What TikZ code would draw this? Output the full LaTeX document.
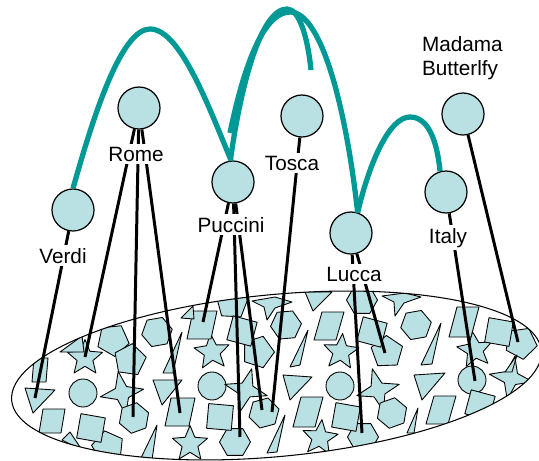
\documentclass[tikz,border=0pt]{standalone}
\usepackage{fontspec}
\setmainfont{Liberation Sans}
\usepackage{tikz}
\usetikzlibrary{calc}
\definecolor{myteal}{RGB}{0,153,150}
\definecolor{mypale}{RGB}{185,224,226}
\tikzset{
  topic/.style={circle, draw=black, fill=mypale, minimum size=0.84cm,
    inner sep=0pt, line width=0.7pt},
  lbl/.style={fill=white, inner sep=1.5pt, font=\fontsize{11.8}{13.6}\selectfont},
  shp/.style={draw=black, fill=mypale, line width=0.5pt, line join=round},
  link/.style={line width=1.7pt, color=black},
  hop/.style={line width=3pt, color=myteal}
}
% regular polygon: sides, x, y, radius, rotation
\newcommand{\rpoly}[5]{\draw[shp, shift={(#2,#3)}, rotate=#5] (0:#4)
  \foreach \k in {1,...,#1}{ -- ({360*\k/#1}:#4)} -- cycle;}
% five point star: x, y, radius, rotation
\newcommand{\pstar}[4]{\draw[shp, shift={(#1,#2)}, rotate=#4] (-90:#3)
  \foreach \k in {0,...,4}{ -- ({-54+72*\k}:{0.45*#3}) -- ({-18+72*\k}:#3)} -- cycle;}
% four point star: x, y, radius, rotation
\newcommand{\qstar}[4]{\draw[shp, shift={(#1,#2)}, rotate=#4] (0:#3)
  \foreach \k in {0,...,3}{ -- ({45+90*\k}:{0.36*#3}) -- ({90+90*\k}:#3)} -- cycle;}
% parallelogram: x, y, half width, half height, skew
\newcommand{\pgram}[5]{\draw[shp, shift={(#1,#2)}] ({-#3+#5},-#4) -- ({#3+#5},-#4)
  -- ({#3-#5},#4) -- ({-#3-#5},#4) -- cycle;}

\begin{document}
\begin{tikzpicture}[x=0.02cm, y=-0.02cm]
  \useasboundingbox (0,0) rectangle (539,461);

  % Shapes inside the ellipse
  \begin{scope}
    \clip[rotate around={5.4:(276.5,375.5)}] (276.5,375.5) ellipse [x radius=266, y radius=81];
    \foreach \x/\y in {83/393, 212/386, 340/386, 472/380}
      \draw[shp] (\x,\y) circle[radius=14];
    \foreach \x/\y/\a in {85/358/0, 212/352/5, 341/352/-5, 475/350/8, 190/444/0, 320/438/-6}
      \pstar{\x}{\y}{18.5}{\a};
    \foreach \x/\y/\a in {122/393/10, 246/390/-15, 378/390/15, 511/378/-10}
      \qstar{\x}{\y}{22}{\a};
    \foreach \x/\y/\a in {157/332/10, 134/418/20, 286/325/5, 264/413/15, 235/442/0,
        416/325/10, 392/413/20, 363/437/0, 362/300/0}
      \rpoly{6}{\x}{\y}{15.5}{\a};
    \foreach \x/\y/\a in {113/340/60, 130/360/10, 258/352/0, 387/352/20, 521/343/-10,
        108/447/30, 232/303/15}
      \rpoly{5}{\x}{\y}{16.5}{\a};
    \foreach \x/\y/\a in {91/428/35, 242/331/30, 220/417/40, 346/417/35, 372/332/30,
        499/332/35, 480/405/30}
      \rpoly{4}{\x}{\y}{17.5}{\a};
    \foreach \x/\y/\w/\h/\s in {202/325/12/14/3, 52/421/11/12/2, 180/412/12/14/3,
        329/326/11/14/4, 308/412/11/15/4, 441/410/11/14/4, 464/322/11/15/4, 40/370/7/12/1}
      \pgram{\x}{\y}{\w}{\h}{\s};
    % triangles
    \draw[shp] (25,388) -- (55,390) -- (33,413) -- cycle;
    \draw[shp] (153,380) -- (182,380) -- (162,405) -- cycle;
    \draw[shp] (283,375) -- (312,377) -- (290,400) -- cycle;
    \draw[shp] (414,375) -- (445,373) -- (422,400) -- cycle;
    \draw[shp] (305,292) -- (332,292) -- (313,311) -- cycle;
    % thin ones
    \draw[shp] (182,332) -- (163,373) -- (173,373) -- cycle;
    \draw[shp] (157,425) -- (140,460) -- (152,460) -- cycle;
    \draw[shp] (308,330) -- (290,367) -- (300,365) -- cycle;
    \draw[shp] (285,415) -- (267,453) -- (277,452) -- cycle;
    \draw[shp] (441,323) -- (421,365) -- (432,364) -- cycle;
    \draw[shp] (418,408) -- (407,433) -- (414,433) -- cycle;
    \draw[shp] (517,355) -- (505,372) -- (512,372) -- cycle;
    % darts and bits at the rim
    \draw[shp] (252,301) -- (275,297) -- (292,302) -- (275,308) -- (267,320) -- (264,307) -- cycle;
    \draw[shp] (382,296) -- (405,293) -- (421,297) -- (404,303) -- (395,316) -- (394,302) -- cycle;
    \draw[shp] (181,318) -- (193,306) -- (194,319) -- cycle;
    \draw[shp] (60,352) -- (82,336) -- (84,352) -- cycle;
    \draw[shp] (62,440) -- (70,432) -- (82,450) -- cycle;
  \end{scope}
  \draw[line width=0.6pt, rotate around={5.4:(276.5,375.5)}] (276.5,375.5) ellipse [x radius=266, y radius=81];

  % Topic circles
  \node[topic] (verdi) at (73,210) {};
  \node[topic] (rome) at (139,108) {};
  \node[topic] (puccini) at (233,182) {};
  \node[topic] (tosca) at (302,116) {};
  \node[topic] (lucca) at (351,233) {};
  \node[topic] (italy) at (446,192) {};
  \node[topic] (butterfly) at (463,114) {};

  % Occurrences in the ellipse
  \coordinate (v1) at (35,398);
  \coordinate (r1) at (85,357);
  \coordinate (r2) at (133,417);
  \coordinate (r3) at (180,413);
  \coordinate (p1) at (203,322);
  \coordinate (p2) at (240,437);
  \coordinate (p3) at (262,410);
  \coordinate (t1) at (272,412);
  \coordinate (l1) at (362,433);
  \coordinate (l2) at (385,353);
  \coordinate (i1) at (475,381);
  \coordinate (b1) at (518,342);

  \draw[link] (verdi) -- (v1);
  \foreach \t in {r1, r2, r3} \draw[link] (rome) -- (\t);
  \foreach \t in {p1, p2, p3} \draw[link] (puccini) -- (\t);
  \draw[link] (tosca) -- (t1);
  \foreach \t in {l1, l2} \draw[link] (lucca) -- (\t);
  \draw[link] (italy) -- (i1);
  \draw[link] (butterfly) -- (b1);

  % Labels
  \node[lbl, anchor=base] (verdiT) at (63,263) {Verdi};
  \node[lbl, anchor=base] (romeT) at (136,161) {Rome};
  \node[lbl, anchor=base] (pucciniT) at (231,232) {Puccini};
  \node[lbl, anchor=base] (toscaT) at (292,170) {Tosca};
  \node[lbl, anchor=base] (luccaT) at (354,281) {Lucca};
  \node[lbl, anchor=base] (italyT) at (448,243) {Italy};
  \node[lbl, anchor=north west, align=left, inner sep=0pt] (butterflyT) at (421.7,36.5) {Madama\\Butterlfy};

  % Associations
  \coordinate (bstart) at (230,133);
  \coordinate (aend) at (311,70);
  \draw[hop] (verdi.north) .. controls (95,110) and (122,29) .. (150,29)
    .. controls (180,29) and (208,105) .. (puccini.95);
  \draw[hop] (puccini.97) .. controls (240,90) and (260,9) .. (287,9)
    .. controls (300,9) and (308,40) .. (aend);
  \draw[hop] (bstart) .. controls (245,60) and (265,12) .. (290,12)
    .. controls (320,12) and (345,100) .. (lucca.72);
  \draw[hop] (lucca.72) .. controls (370,160) and (390,117) .. (410,117)
    .. controls (428,117) and (437,140) .. (italy.106);
\end{tikzpicture}
\end{document}
